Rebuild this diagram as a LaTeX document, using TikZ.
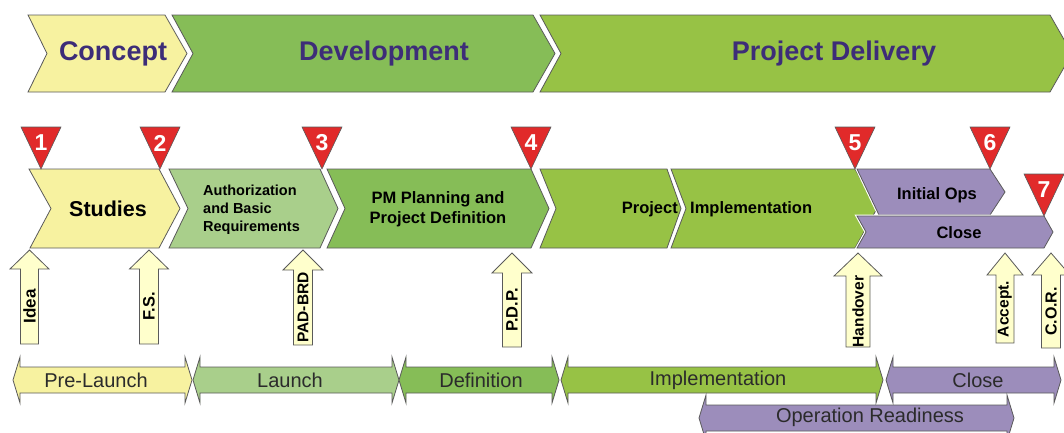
\documentclass[tikz,border=0pt]{standalone}
\usepackage{fontspec}
\setmainfont{Liberation Sans}
\definecolor{cyel}{HTML}{F7F2A0}
\definecolor{cgreen}{HTML}{86BD57}
\definecolor{clime}{HTML}{97C245}
\definecolor{clight}{HTML}{A9CF8B}
\definecolor{cpurple}{HTML}{9C8DBB}
\definecolor{carrow}{HTML}{FFFFCC}
\definecolor{cred}{HTML}{E12A2A}
\definecolor{ctitle}{HTML}{3D2D78}
\definecolor{cline}{HTML}{5A5A5A}
\definecolor{ctext}{HTML}{2B2B2B}
% name, cx, tip y, bottom y, head half width, shaft half width, head height, font size, text
\newcommand\myuparrow[9]{%
  \draw[uparr] (#2,#3) -- (#2+#5,#3+#7) -- (#2+#6,#3+#7) -- (#2+#6,#4) -- (#2-#6,#4) -- (#2-#6,#3+#7) -- (#2-#5,#3+#7) -- cycle;
  \node[uptext, font=\bfseries\fontsize{#8}{#8}\selectfont] (#1) at (#2,{(#3+#7+#4)/2}) {#9};
}
\newcommand\mydblarrow[3]{% x1, x2, cy
  (#1,#3) -- (#1+7,#3-23) -- (#1+7,#3-13) -- (#2-7,#3-13) -- (#2-7,#3-23) -- (#2,#3)
     -- (#2-7,#3+23) -- (#2-7,#3+13) -- (#1+7,#3+13) -- (#1+7,#3+23) -- cycle
}
\newcommand\mytri[4]{% name, apex x, apex y, number
  \draw[tri] (#2,#3) -- (#2-20,#3-42) -- (#2+20,#3-42) -- cycle;
  \node[numtext] (#1) at (#2,#3-26) {#4};
}
\tikzset{
  shapeline/.style={draw=cline, line width=0.8pt, line join=miter},
  halo/.style={preaction={draw=white, line width=3pt}},
  uparr/.style={draw=cline, line width=0.8pt, fill=carrow},
  uptext/.style={rotate=90, text=black, inner sep=0pt},
  tri/.style={draw=cline, line width=0.6pt, fill=cred},
  numtext/.style={font=\bfseries\fontsize{23}{24}\selectfont, text=white, inner sep=0pt},
  toptext/.style={font=\bfseries\fontsize{27}{30}\selectfont, text=ctitle, inner sep=0pt},
  rowtext/.style={font=\bfseries\fontsize{16.5}{20}\selectfont, text=black, inner sep=0pt},
  bottext/.style={font=\fontsize{20}{22}\selectfont, text=ctext, inner sep=0pt},
}
\begin{document}
\begin{tikzpicture}[x=1pt,y=-1pt]
\useasboundingbox (0,0) rectangle (1064,432);
% ---------- top row ----------
\draw[shapeline,fill=cyel] (28,15) -- (165,15) -- (187,53.5) -- (165,92) -- (28,92) -- (47,53.5) -- cycle;
\draw[shapeline,fill=cgreen] (172,15) -- (533,15) -- (555,53.5) -- (533,92) -- (172,92) -- (193,53.5) -- cycle;
\draw[shapeline,fill=clime] (540,15) -- (1050,15) -- (1072,53.5) -- (1050,92) -- (540,92) -- (561,53.5) -- cycle;
\node[toptext] (concept) at (113,53.5) {Concept};
\node[toptext] (development) at (384,53.5) {Development};
\node[toptext] (delivery) at (834,53.5) {Project Delivery};
% ---------- second row ----------
\draw[shapeline,fill=cyel] (29,169) -- (159,169) -- (180,208.5) -- (159,248) -- (30,248) -- (51,208.5) -- cycle;
\draw[shapeline,fill=clight] (169,169) -- (320,169) -- (338,208.5) -- (320,248) -- (169,248) -- (188,208.5) -- cycle;
\draw[shapeline,fill=cgreen] (327,169) -- (531,169) -- (549,208.5) -- (531,248) -- (327,248) -- (345,208.5) -- cycle;
\draw[shapeline,fill=clime] (540,169) -- (667,169) -- (681,208.5) -- (667,248) -- (540,248) -- (556,208.5) -- cycle;
\draw[shapeline,fill=clime] (671,169) -- (855,169) -- (877,208.5) -- (855,248) -- (671,248) -- (686,208.5) -- cycle;
\draw[shapeline,halo,fill=cpurple] (857,169) -- (990,169) -- (1005,192) -- (990,215) -- (879,215) -- cycle;
\draw[shapeline,halo,fill=cpurple] (857,216) -- (1044,216) -- (1053,232) -- (1044,248) -- (857,248) -- (866,232) -- cycle;
\node[font=\bfseries\fontsize{21.5}{24}\selectfont, inner sep=0pt] (studies) at (108,209) {Studies};
\node[font=\bfseries\fontsize{14.5}{18}\selectfont, align=left, anchor=west, inner sep=0pt] (auth) at (203,210) {Authorization\\and Basic\\Requirements};
\node[rowtext, align=center] (pmplan) at (438,209) {PM Planning and\\Project Definition};
\node[rowtext, anchor=east] (project) at (678,209) {Project};
\node[rowtext, anchor=west] (impl) at (690,209) {Implementation};
\node[rowtext] (initops) at (937,195) {Initial Ops};
\node[rowtext] (closeA) at (959,233) {Close};
% ---------- milestone triangles ----------
\mytri{m1}{41}{169}{1}
\mytri{m2}{160}{169}{2}
\mytri{m3}{322}{169}{3}
\mytri{m4}{531}{169}{4}
\mytri{m5}{855}{169}{5}
\mytri{m6}{990}{169}{6}
\mytri{m7}{1044}{216}{7}
% ---------- up arrows ----------
\myuparrow{idea}{29.5}{250}{344}{19.5}{9}{19}{17}{Idea}
\myuparrow{fs}{149}{250}{344}{19.5}{9.5}{19}{16.5}{F.S.}
\myuparrow{padbrd}{303}{250}{345}{20}{9.5}{20}{15.5}{PAD-BRD}
\myuparrow{pdp}{512}{253}{347}{20}{9.5}{20}{16.5}{P.D.P.}
\myuparrow{handover}{858}{253}{347}{24}{12}{23}{15.5}{Handover}
\myuparrow{accept}{1005}{253}{343}{18}{9}{22}{15.5}{Accept.}
\myuparrow{cor}{1051}{253}{348}{19}{9.5}{22}{16}{C.O.R.}
% ---------- bottom arrows ----------
\draw[shapeline,fill=cyel] \mydblarrow{13}{192}{380};
\draw[shapeline,fill=clight] \mydblarrow{193}{399}{380};
\draw[shapeline,fill=cgreen] \mydblarrow{399}{559}{380};
\draw[shapeline,fill=clime] \mydblarrow{561}{883}{380};
\draw[shapeline,fill=cpurple] \mydblarrow{886}{1061}{380};
\draw[shapeline,fill=cpurple] \mydblarrow{699}{1014}{418};
\node[bottext] (prelaunch) at (96,380) {Pre-Launch};
\node[bottext] (launch) at (290,380) {Launch};
\node[bottext] (definition) at (481,380) {Definition};
\node[bottext] (implB) at (718,380) {Implementation};
\node[bottext] (closeB) at (978,380) {Close};
\node[bottext] (opready) at (870,417) {Operation Readiness};
\end{tikzpicture}
\end{document}
